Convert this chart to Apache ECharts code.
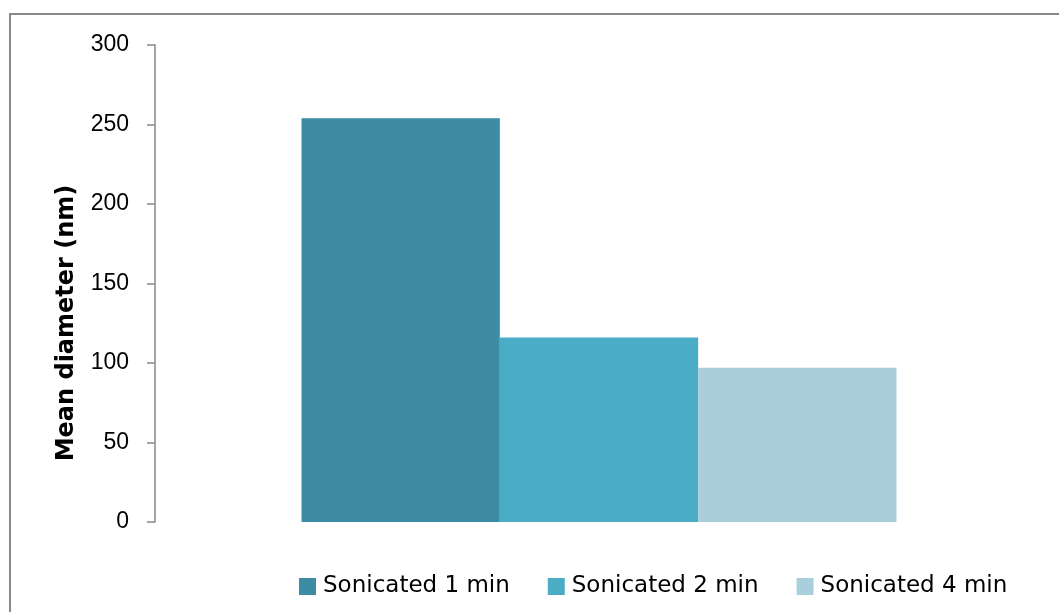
<!DOCTYPE html>
<html>
<head>
<meta charset="utf-8">
<script src="https://cdn.jsdelivr.net/npm/echarts@6/dist/echarts.min.js"></script>
<style>html,body{margin:0;padding:0;background:#fff}#c{width:1059px;height:612px}</style>
</head>
<body>
<div id="c"></div>
<script>
const categories = [''];
const seriesNames = ['Sonicated 1 min', 'Sonicated 2 min', 'Sonicated 4 min'];
const seriesValues = [[254], [116], [97]];
const seriesColors = ['#3D8CA3', '#4BACC6', '#A9CEDC'];
const yTicks = { min: 0, max: 300, interval: 50 };
const yTitle = 'Mean diameter (nm)';

const chart = echarts.init(document.getElementById('c'), null, { renderer: 'canvas' });
chart.setOption({
  animation: false,
  backgroundColor: '#fff',
  graphic: [
    { type: 'rect', shape: { x: 10, y: 14, width: 1200, height: 800 },
      style: { fill: 'none', stroke: '#898989', lineWidth: 2 }, z: 0 },
    { type: 'text', x: 67, y: 323, rotation: Math.PI / 2,
      style: { text: yTitle, font: 'bold 24px "DejaVu Sans"', fill: '#000', align: 'center', verticalAlign: 'middle' } }
  ],
  grid: { left: 155, top: 45, bottom: 90, right: 16 },
  legend: {
    data: seriesNames, left: 294, top: 570, itemWidth: 17, itemHeight: 17, itemGap: 38,
    icon: 'rect',
    textStyle: { fontFamily: 'DejaVu Sans', fontSize: 23, color: '#000', padding: [0, 0, 0, 2] }
  },
  xAxis: {
    type: 'category', data: categories,
    axisLine: { show: false }, axisTick: { show: false }, axisLabel: { show: false }, splitLine: { show: false }
  },
  yAxis: {
    type: 'value', min: yTicks.min, max: yTicks.max, interval: yTicks.interval,
    axisLine: { show: true, lineStyle: { color: '#888', width: 1.5 } },
    axisTick: { show: true, length: 8, lineStyle: { color: '#888', width: 1.5 } },
    axisLabel: { margin: 26, fontFamily: 'Liberation Sans', fontSize: 23, color: '#000' },
    splitLine: { show: false }
  },
  series: seriesNames.map((n, i) => ({
    name: n, type: 'bar', data: seriesValues[i], barGap: 0, barCategoryGap: '33%',
    itemStyle: { color: seriesColors[i] }
  }))
});
</script>
</body>
</html>
